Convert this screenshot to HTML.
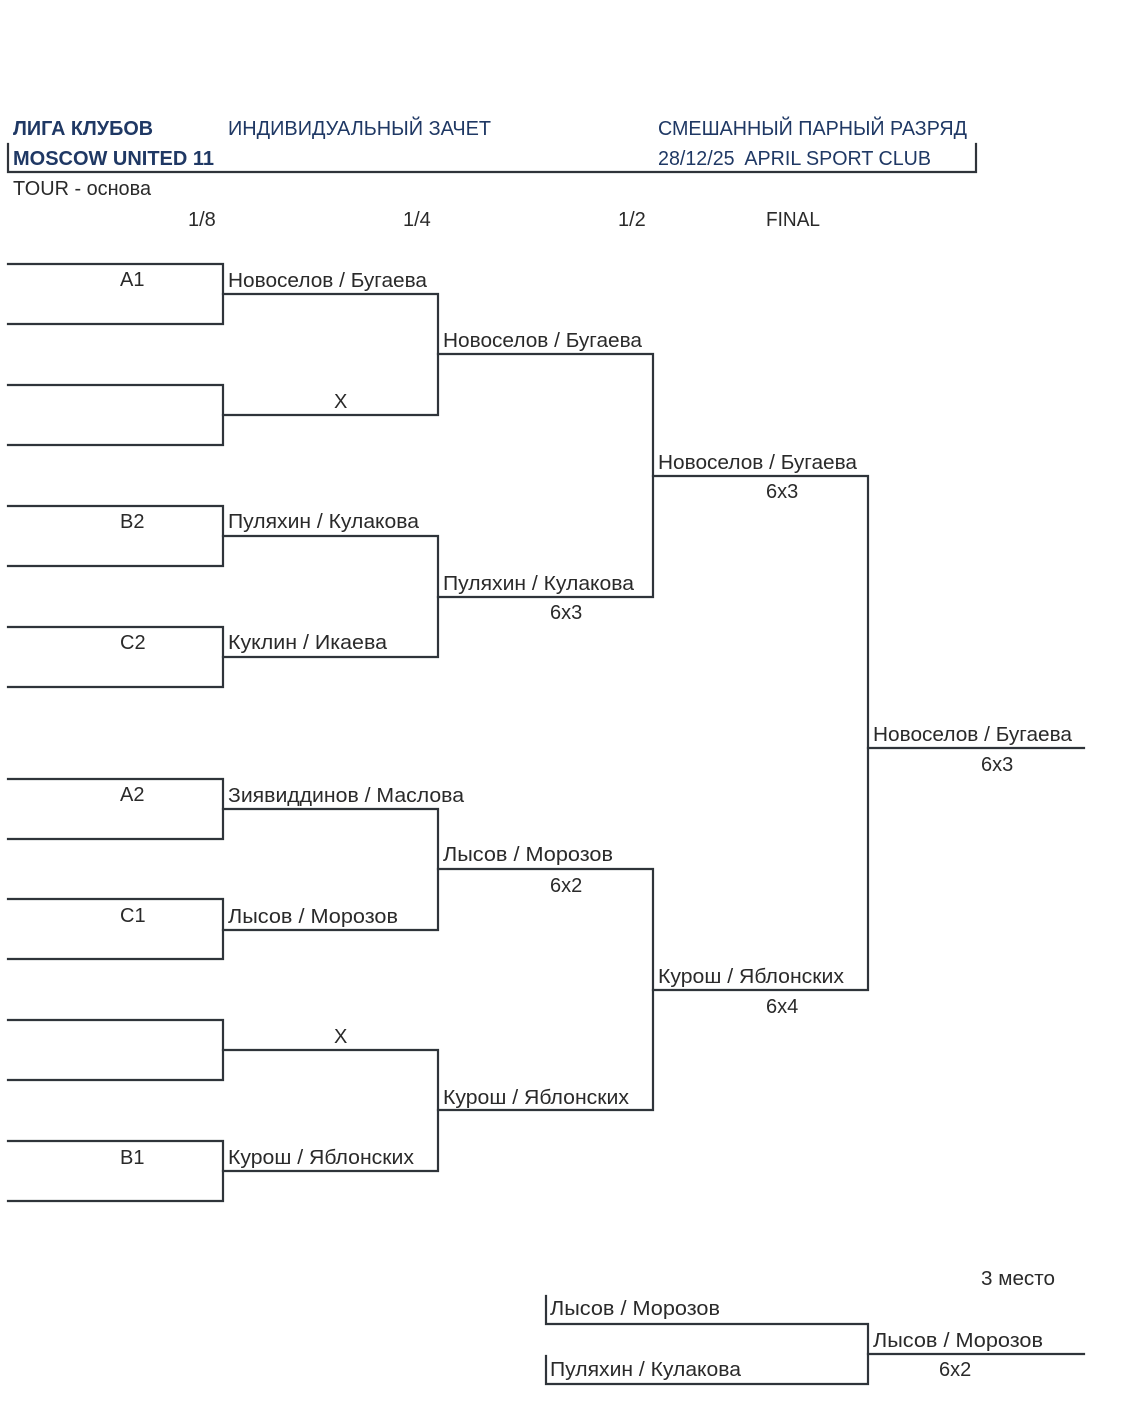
<!DOCTYPE html>
<html><head><meta charset="utf-8"><style>
html,body{margin:0;padding:0;background:#fff;}
svg{display:block;}
text{font-family:"Liberation Sans","DejaVu Sans",sans-serif;font-size:20px;fill:#2a2a2a;}
.h{fill:#1f3864;}
.b{font-weight:bold;}
</style></head><body>
<svg width="1127" height="1412" viewBox="0 0 1127 1412" xmlns="http://www.w3.org/2000/svg">
<g stroke="#2f343a" stroke-width="2.2" fill="none" stroke-linecap="square">
<path d="M8 144V172H976V144"/>
<path d="M8 264H223V324H8"/><path d="M8 385H223V445H8"/>
<path d="M8 506H223V566H8"/><path d="M8 627H223V687H8"/>
<path d="M8 779H223V839H8"/><path d="M8 899H223V959H8"/>
<path d="M8 1020H223V1080H8"/><path d="M8 1141H223V1201H8"/>
<path d="M223 294H438V415H223"/><path d="M223 536H438V657H223"/>
<path d="M223 809H438V930H223"/><path d="M223 1050H438V1171H223"/>
<path d="M438 354H653V597H438"/><path d="M438 869H653V1110H438"/>
<path d="M653 476H868V990H653"/>
<path d="M868 748H1084"/>
<path d="M546 1296V1324H868V1384H546V1356"/>
<path d="M868 1354H1084"/>
</g>
<g>
<text x="13" y="135" class="h b" textLength="140" lengthAdjust="spacingAndGlyphs">ЛИГА КЛУБОВ</text>
<text x="13" y="165" class="h b" textLength="201" lengthAdjust="spacingAndGlyphs">MOSCOW UNITED 11</text>
<text x="228" y="135" class="h" textLength="263" lengthAdjust="spacingAndGlyphs">ИНДИВИДУАЛЬНЫЙ ЗАЧЕТ</text>
<text x="658" y="135" class="h" textLength="309" lengthAdjust="spacingAndGlyphs">СМЕШАННЫЙ ПАРНЫЙ РАЗРЯД</text>
<text x="658" y="165" class="h" textLength="273" lengthAdjust="spacingAndGlyphs">28/12/25&#160; APRIL SPORT CLUB</text>
<text x="13" y="195" textLength="138" lengthAdjust="spacingAndGlyphs">TOUR - основа</text>
<text x="188" y="226">1/8</text>
<text x="403" y="226">1/4</text>
<text x="618" y="226">1/2</text>
<text x="766" y="226" textLength="54" lengthAdjust="spacingAndGlyphs">FINAL</text>

<text x="120" y="286">A1</text>
<text x="120" y="528">B2</text>
<text x="120" y="649">C2</text>
<text x="120" y="801">A2</text>
<text x="120" y="922">C1</text>
<text x="120" y="1164">B1</text>

<text x="228" y="287" textLength="199" lengthAdjust="spacingAndGlyphs">Новоселов / Бугаева</text>
<text x="334" y="408">X</text>
<text x="228" y="528" textLength="191" lengthAdjust="spacingAndGlyphs">Пуляхин / Кулакова</text>
<text x="228" y="649" textLength="159" lengthAdjust="spacingAndGlyphs">Куклин / Икаева</text>
<text x="228" y="802" textLength="236" lengthAdjust="spacingAndGlyphs">Зиявиддинов / Маслова</text>
<text x="228" y="923" textLength="170" lengthAdjust="spacingAndGlyphs">Лысов / Морозов</text>
<text x="334" y="1043">X</text>
<text x="228" y="1164" textLength="186" lengthAdjust="spacingAndGlyphs">Курош / Яблонских</text>

<text x="443" y="347" textLength="199" lengthAdjust="spacingAndGlyphs">Новоселов / Бугаева</text>
<text x="443" y="590" textLength="191" lengthAdjust="spacingAndGlyphs">Пуляхин / Кулакова</text>
<text x="550" y="619">6x3</text>
<text x="443" y="861" textLength="170" lengthAdjust="spacingAndGlyphs">Лысов / Морозов</text>
<text x="550" y="892">6x2</text>
<text x="443" y="1104" textLength="186" lengthAdjust="spacingAndGlyphs">Курош / Яблонских</text>

<text x="658" y="469" textLength="199" lengthAdjust="spacingAndGlyphs">Новоселов / Бугаева</text>
<text x="766" y="498">6x3</text>
<text x="658" y="983" textLength="186" lengthAdjust="spacingAndGlyphs">Курош / Яблонских</text>
<text x="766" y="1013">6x4</text>

<text x="873" y="741" textLength="199" lengthAdjust="spacingAndGlyphs">Новоселов / Бугаева</text>
<text x="981" y="771">6x3</text>

<text x="981" y="1285" textLength="74" lengthAdjust="spacingAndGlyphs">3 место</text>
<text x="550" y="1315" textLength="170" lengthAdjust="spacingAndGlyphs">Лысов / Морозов</text>
<text x="550" y="1376" textLength="191" lengthAdjust="spacingAndGlyphs">Пуляхин / Кулакова</text>
<text x="873" y="1347" textLength="170" lengthAdjust="spacingAndGlyphs">Лысов / Морозов</text>
<text x="939" y="1376">6x2</text>
</g>
</svg>
</body></html>
